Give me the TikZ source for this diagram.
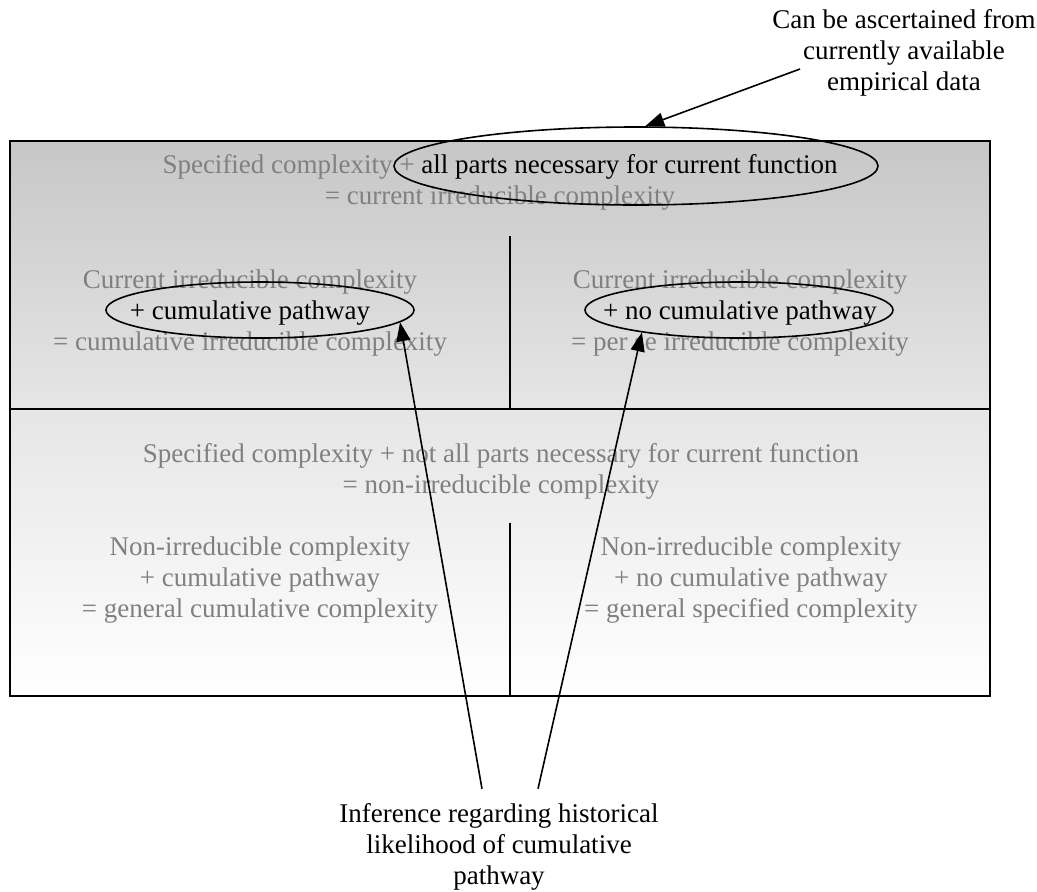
\documentclass[tikz,border=0pt]{standalone}
\usepackage{fontspec}
\setmainfont{Liberation Serif}
\usetikzlibrary{shapes.geometric, arrows.meta}
\definecolor{txtgray}{RGB}{128,128,128}

\begin{document}
\begin{tikzpicture}[x=1pt, y=-1pt, line width=1.6pt,
  font=\fontsize{27}{31}\selectfont,
  panel/.style={draw, line width=1.8pt, minimum width=980, inner sep=0pt},
  cell/.style={align=center, text=txtgray, inner sep=0pt},
  ring/.style={draw, ellipse, inner sep=0pt},
  note/.style={align=center, inner sep=0pt},
  >={Triangle[length=19pt, width=14pt]}]

\useasboundingbox (0, 0) rectangle (1037, 892);

% the two panels
\node [panel, top color=black!22, bottom color=black!10, minimum height=268] (curbox) at (500, 275) {};
\node [panel, top color=black!10, bottom color=white, minimum height=287] (nonbox) at (500, 552.5) {};
\draw (510, 236) -- (510, 409);
\draw (510, 523) -- (510, 696);

% texts in the panels
\node [cell] (curhead) at (500, 182) {Specified complexity + \textcolor{black}{all parts necessary for current function}\\= current irreducible complexity};
\node [cell] (cumcell) at (250, 313) {Current irreducible complexity\\\textcolor{black}{+ cumulative pathway}\\= cumulative irreducible complexity};
\node [cell] (nocumcell) at (740, 313) {Current irreducible complexity\\\textcolor{black}{+ no cumulative pathway}\\= per se irreducible complexity};
\node [cell] (nonhead) at (501, 471) {Specified complexity + not all parts necessary for current function\\= non-irreducible complexity};
\node [cell] (gencum) at (260, 580) {Non-irreducible complexity\\+ cumulative pathway\\= general cumulative complexity};
\node [cell] (genspec) at (751, 580) {Non-irreducible complexity\\+ no cumulative pathway\\= general specified complexity};

% rings
\node [ring, minimum width=484, minimum height=78] (allparts) at (636, 166) {};
\node [ring, minimum width=308, minimum height=56] (cumring) at (260, 310) {};
\node [ring, minimum width=308, minimum height=56] (nocumring) at (739, 310) {};

% notes and arrows
\node [note] (avail) at (904, 53) {Can be ascertained from\\currently available\\empirical data};
\node [note] (inf) at (499, 847) {Inference regarding historical\\likelihood of cumulative\\pathway};
\coordinate (availtail) at (800, 69);

\draw [->] (availtail) -- (allparts.77);
\draw [->] ([xshift=-17pt, yshift=14pt]inf.north) -- (cumring.-5);
\draw [->] ([xshift=39pt, yshift=14pt]inf.north) -- (nocumring.-167);

\end{tikzpicture}
\end{document}
